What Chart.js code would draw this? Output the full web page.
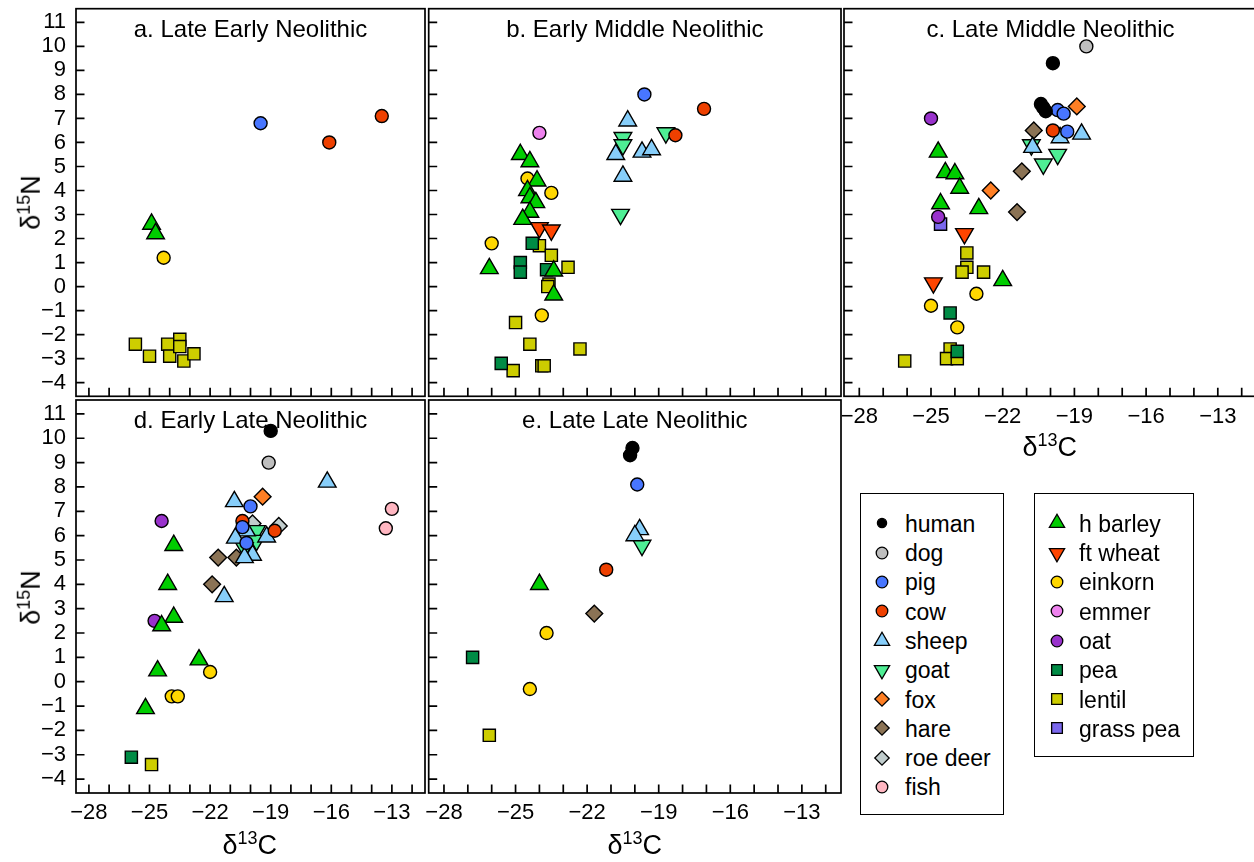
<!DOCTYPE html>
<html>
<head>
<meta charset="utf-8">
<script src="https://cdn.jsdelivr.net/npm/chart.js"></script>
<style>
  html, body { margin: 0; padding: 0; background: #fff; }
  body { width: 1254px; height: 862px; position: relative; overflow: hidden;
         font-family: "Liberation Sans", Arial, Helvetica, sans-serif; }
  canvas.panel { position: absolute; }
  .atitle { position: absolute; font-size: 27px; line-height: 30px; white-space: nowrap; color: #000; }
  .atitle sup { font-size: 18px; vertical-align: 0; position: relative; top: -10px; }
  .legbox { position: absolute; border: 1.5px solid #000; box-sizing: border-box; }
  .legtxt { position: absolute; font-size: 23px; line-height: 26px; white-space: nowrap; color: #000; }
  .legmark { position: absolute; }
</style>
</head>
<body>
<script>
// categories
var species = ["human", "dog", "pig", "cow", "sheep", "goat", "fox", "hare", "roe deer", "fish",
               "h barley", "ft wheat", "einkorn", "emmer", "oat", "pea", "lentil", "grass pea"];
var panelTitles = ["a. Late Early Neolithic", "b. Early Middle Neolithic", "c. Late Middle Neolithic",
                   "d. Early Late Neolithic", "e. Late Late Neolithic"];
var xTicks = [-28, -27, -26, -25, -24, -23, -22, -21, -20, -19, -18, -17, -16, -15, -14, -13, -12];
var xLabels = [-28, -25, -22, -19, -16, -13];
var yTicks = [-4, -3, -2, -1, 0, 1, 2, 3, 4, 5, 6, 7, 8, 9, 10, 11];

// values [d13C, d15N], one list per panel: a, b, c, d, e
var human = [[], [],
  [[-19.9, 9.3], [-20.4, 7.6], [-20.3, 7.45], [-20.2, 7.3]],
  [[-19.0, 10.3]],
  [[-20.1, 9.6], [-20.2, 9.3]]];
var dog = [[], [], [[-18.5, 10.0]], [[-19.1, 9.0]], []];
var pig = [[[-19.5, 6.8]], [[-19.6, 8.0]],
  [[-19.7, 7.35], [-19.45, 7.2], [-19.3, 6.45]],
  [[-20.0, 7.2], [-20.4, 6.35], [-20.2, 5.7]],
  [[-19.9, 8.1]]];
var cow = [[[-16.1, 6.0], [-13.5, 7.1]], [[-17.1, 7.4], [-18.3, 6.3]], [[-19.9, 6.5]],
  [[-20.4, 6.6], [-18.8, 6.2]], [[-21.2, 4.6]]];
var sheep = [[],
  [[-20.3, 6.9], [-20.8, 5.5], [-19.7, 5.6], [-19.3, 5.7], [-20.5, 4.6]],
  [[-18.7, 6.35], [-19.6, 6.2], [-20.75, 5.8]],
  [[-16.2, 8.2], [-20.8, 7.4], [-20.2, 6.2], [-20.75, 5.9], [-19.2, 5.95], [-19.9, 5.2], [-20.3, 5.1], [-21.3, 3.5]],
  [[-19.8, 6.25], [-20.0, 6.0]]];
var goat = [[],
  [[-20.5, 6.2], [-20.5, 5.9], [-18.7, 6.4], [-20.6, 3.0]],
  [[-20.8, 5.9], [-19.7, 5.5], [-20.3, 5.1]],
  [[-19.7, 6.2], [-19.7, 5.8], [-20.3, 5.5]],
  [[-19.7, 5.6]]];
var fox = [[], [], [[-18.9, 7.5], [-22.5, 4.0]], [[-19.4, 7.6]], []];
var hare = [[], [], [[-20.7, 6.5], [-21.2, 4.8], [-21.4, 3.1]],
  [[-21.6, 5.1], [-20.7, 5.1], [-21.9, 4.0]], [[-21.7, 2.8]]];
var roeDeer = [[], [], [], [[-19.9, 6.5], [-18.6, 6.4]], []];
var fish = [[], [], [], [[-13.0, 7.1], [-13.3, 6.3]], []];
var hBarley = [[[-24.9, 2.6], [-24.7, 2.2]],
  [[-24.8, 5.5], [-24.4, 5.2], [-24.1, 4.4], [-24.5, 4.0], [-24.4, 3.7], [-24.15, 3.5], [-24.4, 3.1],
   [-24.7, 2.8], [-26.1, 0.75], [-23.4, 0.65], [-23.4, -0.35]],
  [[-24.7, 5.6], [-24.4, 4.75], [-24.0, 4.7], [-23.8, 4.1], [-24.6, 3.45], [-23.0, 3.25], [-22.0, 0.25]],
  [[-23.8, 5.6], [-24.1, 4.0], [-23.8, 2.65], [-24.4, 2.3], [-22.55, 0.9], [-24.6, 0.45], [-25.2, -1.1]],
  [[-24.0, 4.0]]];
var ftWheat = [[], [[-24.0, 2.45], [-23.5, 2.35]], [[-23.6, 2.2], [-24.9, 0.15]], [], []];
var einkorn = [[[-24.3, 1.2]],
  [[-24.5, 4.5], [-23.5, 3.9], [-26.0, 1.8], [-23.9, -1.2]],
  [[-25.0, -0.8], [-23.1, -0.3], [-23.9, -1.7]],
  [[-22.0, 0.4], [-23.9, -0.6], [-23.6, -0.6]],
  [[-23.7, 2.0], [-24.4, -0.3]]];
var emmer = [[], [[-24.0, 6.4]], [], [], []];
var oat = [[], [], [[-25.0, 7.0], [-24.7, 2.9]], [[-24.4, 6.6], [-24.75, 2.5]], []];
var pea = [[],
  [[-24.3, 1.8], [-24.8, 1.0], [-24.8, 0.6], [-23.7, 0.7], [-25.6, -3.2]],
  [[-24.2, -1.1], [-23.9, -2.7]],
  [[-25.9, -3.1]],
  [[-26.8, 1.0]]];
var lentil = [
  [[-25.7, -2.4], [-25.0, -2.9], [-24.1, -2.4], [-24.0, -2.9], [-23.5, -2.2], [-23.5, -2.5], [-23.3, -3.1], [-22.8, -2.8]],
  [[-24.0, 1.7], [-23.5, 1.3], [-22.8, 0.8], [-23.6, 0.1], [-23.65, 0.0], [-25.0, -1.5], [-24.4, -2.4],
   [-25.1, -3.5], [-23.9, -3.3], [-23.8, -3.3], [-22.3, -2.6]],
  [[-23.5, 1.4], [-23.5, 0.8], [-23.7, 0.6], [-22.8, 0.6], [-26.1, -3.1], [-24.2, -2.6], [-24.35, -3.0], [-23.9, -3.0]],
  [[-24.9, -3.4]],
  [[-26.1, -2.2]]];
var grassPea = [[], [], [[-24.6, 2.6]], [], []];

var seriesValues = [human, dog, pig, cow, sheep, goat, fox, hare, roeDeer, fish,
                    hBarley, ftWheat, einkorn, emmer, oat, pea, lentil, grassPea];

// styles
var fills = ["#000000", "#BEBEBE", "#4876FF", "#EE4000", "#87CEFA", "#4EEE94", "#FF7F24", "#8B7355", "#C1CDCD", "#FFB6C1",
             "#00CD00", "#FF4500", "#FFD700", "#EE82EE", "#9932CC", "#008B45", "#CDCD00", "#7B68EE"];
var shapes = ["circle", "circle", "circle", "circle", "triangle", "triangle", "rectRot", "rectRot", "rectRot", "circle",
              "triangle", "triangle", "circle", "circle", "circle", "rect", "rect", "rect"];
var flips = [0, 0, 0, 0, 0, 180, 0, 0, 0, 0, 0, 180, 0, 0, 0, 0, 0, 0];
var sizeFor = { circle: 6.5, triangle: 10.2, rect: 8.6, rectRot: 8.4 };
var legSizeFor = { circle: 5.8, triangle: 8.8, rect: 7.6, rectRot: 7.2 };

var panels = [
  { x: 0, y: 0, w: 430, h: 400, box: [76, 8.7, 425, 396.3], yLab: true, xLab: false },
  { x: 425, y: 0, w: 420, h: 400, box: [428.7, 8.7, 841, 396.3], yLab: false, xLab: false },
  { x: 840, y: 0, w: 420, h: 440, box: [844, 8.7, 1257, 396.3], yLab: false, xLab: true },
  { x: 0, y: 396, w: 430, h: 440, box: [76, 400, 425, 793], yLab: true, xLab: true },
  { x: 425, y: 396, w: 420, h: 440, box: [428.7, 400, 841, 793], yLab: false, xLab: true }
];

function fmt(v) { return v < 0 ? "\u2212" + Math.abs(v) : String(v); }

function noPad(s) { s.paddingLeft = 0; s.paddingRight = 0; s.paddingTop = 0; s.paddingBottom = 0; }

var framePlugin = {
  id: "frame",
  afterDraw: function (chart) {
    var ctx = chart.ctx, a = chart.chartArea;
    var xs = chart.scales.x, ys = chart.scales.y;
    ctx.save();
    ctx.strokeStyle = "#000";
    ctx.lineWidth = 1.7;
    ctx.strokeRect(a.left, a.top, a.right - a.left, a.bottom - a.top);
    ctx.beginPath();
    xTicks.forEach(function (v) {
      var px = xs.getPixelForValue(v);
      ctx.moveTo(px, a.bottom);
      ctx.lineTo(px, a.bottom - 8.5);
    });
    yTicks.forEach(function (v) {
      var py = ys.getPixelForValue(v);
      ctx.moveTo(a.left, py);
      ctx.lineTo(a.left + 8.5, py);
    });
    ctx.stroke();
    // panel title inside the box
    ctx.fillStyle = "#000";
    ctx.font = '24px "Liberation Sans", Arial, sans-serif';
    ctx.textAlign = "center";
    ctx.textBaseline = "alphabetic";
    ctx.fillText(chart.options.plugins.frame.title, (a.left + a.right) / 2, a.top + 28);
    ctx.restore();
  }
};

Chart.defaults.font.family = '"Liberation Sans", Arial, sans-serif';
Chart.defaults.color = "#000";

panels.forEach(function (p, pi) {
  var cv = document.createElement("canvas");
  cv.className = "panel";
  cv.width = p.w; cv.height = p.h;
  cv.style.left = p.x + "px"; cv.style.top = p.y + "px";
  cv.style.width = p.w + "px"; cv.style.height = p.h + "px";
  document.body.appendChild(cv);

  var datasets = species.map(function (s, i) {
    return {
      label: s,
      data: seriesValues[i][pi].map(function (d) { return { x: d[0], y: d[1] }; }),
      pointStyle: shapes[i],
      rotation: flips[i],
      pointRadius: sizeFor[shapes[i]],
      backgroundColor: fills[i],
      borderColor: "#000",
      borderWidth: 1.4
    };
  });

  new Chart(cv, {
    type: "scatter",
    data: { datasets: datasets },
    options: {
      responsive: false,
      devicePixelRatio: 1,
      animation: false,
      events: [],
      layout: { autoPadding: false, padding: { left: 0, bottom: 0, top: p.box[1] - p.y, right: p.x + p.w - p.box[2] } },
      plugins: { legend: { display: false }, tooltip: { enabled: false }, frame: { title: panelTitles[pi] } },
      scales: {
        x: {
          type: "linear", min: -28.64, max: -11.36,
          grid: { display: false, drawTicks: false },
          border: { display: false },
          afterBuildTicks: function (s) { s.ticks = xTicks.map(function (v) { return { value: v }; }); },
          afterFit: function (s) { s.height = p.y + p.h - p.box[3]; noPad(s); },
          ticks: {
            display: p.xLab, autoSkip: false, maxRotation: 0, padding: 7,
            font: { size: 22 },
            callback: function (v) { return xLabels.indexOf(v) >= 0 ? fmt(v) : ""; }
          }
        },
        y: {
          type: "linear", min: -4.57, max: 11.57,
          grid: { display: false, drawTicks: false },
          border: { display: false },
          afterBuildTicks: function (s) { s.ticks = yTicks.map(function (v) { return { value: v }; }); },
          afterFit: function (s) { s.width = p.box[0] - p.x; noPad(s); },
          ticks: {
            display: p.yLab, autoSkip: false, padding: 10,
            font: { size: 22 },
            callback: function (v) { return fmt(v); }
          }
        }
      }
    },
    plugins: [framePlugin]
  });
});

// axis titles
function addTitle(html, cx, cy, rotate) {
  var d = document.createElement("div");
  d.className = "atitle";
  d.innerHTML = html;
  document.body.appendChild(d);
  var w = d.offsetWidth, h = d.offsetHeight;
  d.style.left = (cx - w / 2) + "px";
  d.style.top = (cy - h / 2) + "px";
  if (rotate) d.style.transform = "rotate(-90deg)";
}
addTitle("\u03b4<sup>15</sup>N", 32, 202, true);
addTitle("\u03b4<sup>15</sup>N", 32, 597, true);
addTitle("\u03b4<sup>13</sup>C", 1050, 448, false);
addTitle("\u03b4<sup>13</sup>C", 250, 846, false);
addTitle("\u03b4<sup>13</sup>C", 635, 846, false);

// legend
function drawMarker(ctx, i, cx, cy) {
  var opts = { pointStyle: shapes[i], rotation: flips[i], radius: legSizeFor[shapes[i]], borderWidth: 1.3 };
  if (i === 0) opts.radius = 4.6;
  ctx.fillStyle = fills[i];
  ctx.strokeStyle = "#000";
  ctx.lineWidth = 1.3;
  Chart.helpers.drawPoint(ctx, opts, cx, cy);
}
var legendCols = [
  { box: [860, 493, 1004, 815], mx: 882, tx: 905, items: [0, 1, 2, 3, 4, 5, 6, 7, 8, 9] },
  { box: [1034, 493, 1194, 757], mx: 1057, tx: 1079, items: [10, 11, 12, 13, 14, 15, 16, 17] }
];
legendCols.forEach(function (col) {
  var b = document.createElement("div");
  b.className = "legbox";
  b.style.left = col.box[0] + "px"; b.style.top = col.box[1] + "px";
  b.style.width = (col.box[2] - col.box[0]) + "px"; b.style.height = (col.box[3] - col.box[1]) + "px";
  document.body.appendChild(b);
  col.items.forEach(function (i, r) {
    var cy = 523.3 + r * 29.3;
    var mc = document.createElement("canvas");
    mc.className = "legmark";
    mc.width = 24; mc.height = 24;
    mc.style.left = (col.mx - 12) + "px"; mc.style.top = (cy - 12) + "px";
    document.body.appendChild(mc);
    drawMarker(mc.getContext("2d"), i, 12, 12);
    var t = document.createElement("div");
    t.className = "legtxt";
    t.textContent = species[i];
    t.style.left = col.tx + "px";
    t.style.top = (cy - 12.6) + "px";
    document.body.appendChild(t);
  });
});
</script>
</body>
</html>
